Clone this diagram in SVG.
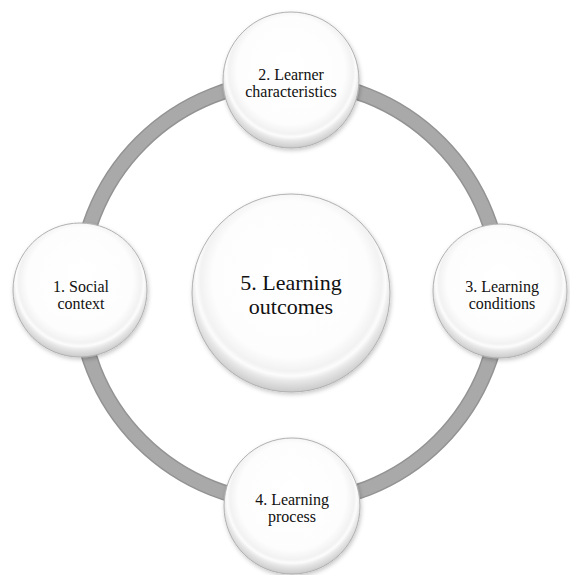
<svg xmlns="http://www.w3.org/2000/svg" width="570" height="575" viewBox="0 0 570 575">
<defs>
<style>
.node{fill:url(#g);stroke:#b0b0b0;stroke-width:1;filter:url(#sh)}
text{font-family:"Liberation Serif",serif;fill:#111;text-anchor:middle}
.t{font-size:16px}
.tb{font-size:22px}
</style>
<radialGradient id="g" cx="50%" cy="45%" r="55%" fx="50%" fy="38%">
<stop offset="0" stop-color="#ffffff"/>
<stop offset="0.72" stop-color="#fdfdfd"/>
<stop offset="0.83" stop-color="#f2f2f2"/>
<stop offset="0.87" stop-color="#fcfcfc"/>
<stop offset="0.91" stop-color="#e8e8e8"/>
<stop offset="1" stop-color="#cacaca"/>
</radialGradient>
<filter id="sh" x="-20%" y="-20%" width="140%" height="140%">
<feDropShadow dx="1" dy="2" stdDeviation="2" flood-color="#000" flood-opacity="0.22"/>
</filter>
</defs>
<g id="connectors">
<circle cx="290" cy="292" r="211" fill="none" stroke="#939393" stroke-width="16"/>
<circle cx="290" cy="292" r="211" fill="none" stroke="#a9a9a9" stroke-width="13"/>
</g>
<g id="n5">
<circle class="node" cx="291" cy="293" r="99"/>
<text class="tb" x="291" y="290">5. Learning</text>
<text class="tb" x="291" y="314">outcomes</text>
</g>
<g id="n2">
<circle class="node" cx="291" cy="80" r="68"/>
<text class="t" x="291" y="80">2. Learner</text>
<text class="t" x="291" y="97">characteristics</text>
</g>
<g id="n1">
<circle class="node" cx="80" cy="290" r="67"/>
<text class="t" x="81" y="292">1. Social</text>
<text class="t" x="81" y="309">context</text>
</g>
<g id="n3">
<circle class="node" cx="500" cy="291" r="67"/>
<text class="t" x="502" y="292">3. Learning</text>
<text class="t" x="502" y="309">conditions</text>
</g>
<g id="n4">
<circle class="node" cx="292" cy="506" r="68"/>
<text class="t" x="292" y="505">4. Learning</text>
<text class="t" x="292" y="522">process</text>
</g>
</svg>
